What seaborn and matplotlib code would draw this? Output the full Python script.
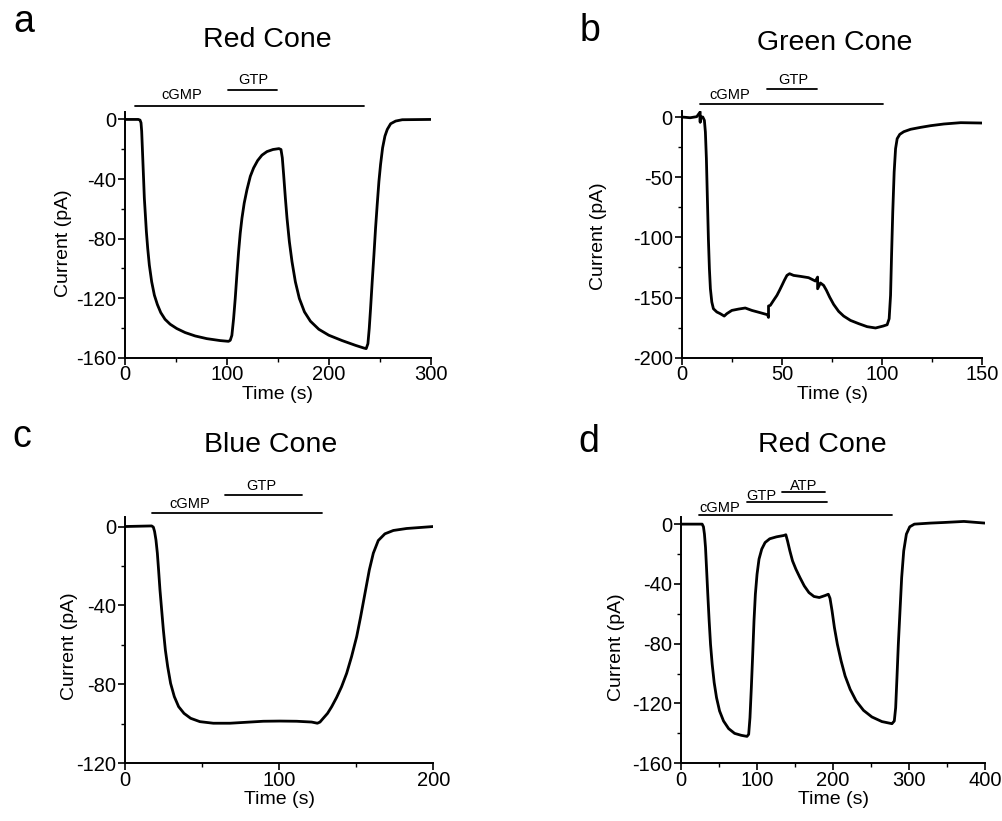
import numpy as np
import pandas as pd
import matplotlib
matplotlib.use('agg')
import matplotlib.pyplot as plt
from matplotlib.ticker import MultipleLocator
import seaborn as sns

# ---- traces (time in s, current in pA) ----
a_time = [0, 13, 14.75, 15.74, 16.39, 17.05, 17.7, 18.36, 19.0, 20.0, 21.0, 22.3, 23.9, 26.2,
          28.85, 31.8, 35.1, 39.3, 44.3, 50.8, 59.0, 68.9, 80.3, 93.4, 101.6, 103.3, 104.9,
          106.6, 108.2, 109.8, 111.5, 113.1, 114.8, 117, 119.7, 123, 126.2, 130.2, 134.4, 139.3,
          145.2, 151.1, 153.1, 154.4, 155.7, 157.4, 159, 161.3, 163.9, 167.2, 171.1, 176.1, 182,
          190.2, 200, 213.1, 226.2, 234.4, 236.7, 238.4, 239.7, 241, 242.6, 244.3, 245.9, 247.5,
          249.2, 250.8, 252.8, 255.1, 257.4, 260.7, 265.6, 272.1, 300]
a_curr = [0, 0, -0.45, -2.25, -7.9, -19.1, -30.3, -41.6, -52.8, -64.0, -75.3, -86.5, -97.8,
          -109.0, -118.0, -124.3, -129.7, -134.2, -137.5, -140.4, -143.1, -145.4, -147.2,
          -148.5, -149.0, -148.3, -145, -133.7, -120.2, -104.5, -88.8, -76.4, -66.3, -56.2,
          -47.2, -38.2, -32.6, -27.6, -24, -21.6, -20.2, -19.6, -20.2, -25.8, -37.1, -52.8,
          -66.3, -82, -95.5, -109, -120.2, -129.2, -135.5, -140.9, -144.9, -148.5, -151.7,
          -153.5, -153.9, -150.6, -140.4, -127, -109, -91, -73, -57.3, -41.6, -30.3, -19.1,
          -11.2, -6.7, -2.9, -1.1, -0.2, 0]

b_time = [0, 4.2, 7.5, 9.2, 9.2, 9.2, 10.5, 11.3, 11.8, 12.3, 12.8, 13.3, 13.8, 14.3, 15, 15.8,
          17.5, 19.2, 21.2, 22.5, 25, 28.3, 31.7, 35, 39.2, 42.8, 43.3, 43.3, 44.2, 45.8, 47.5,
          48.8, 50, 51.2, 52.5, 53.8, 55.8, 59.2, 63.3, 66.7, 67.8, 67.8, 69.2, 70.8, 72.2, 73.8,
          75.8, 78.3, 80.8, 84.2, 88.3, 92.5, 96.7, 100.5, 102.5, 103.5, 104.2, 104.7, 105.3,
          106, 106.7, 107.5, 108.8, 110.8, 114.2, 119.2, 124.2, 130.8, 139.2, 150]
b_curr = [0, -0.6, 0.3, 4.2, -4.2, 0, 0, -2.8, -12.5, -34.6, -67.9, -101.1, -126, -142.7,
          -153.7, -159.3, -162, -163.4, -165.4, -163.4, -160.7, -159.6, -158.7, -160.7, -162.6,
          -164.3, -166.5, -157, -156.5, -152.4, -148.2, -144, -139.9, -135.7, -131.6, -130.2,
          -131.6, -132.4, -133.5, -136.3, -133, -142.7, -137.9, -139.9, -144, -149.6, -155.7,
          -161.5, -165.4, -169, -171.7, -174.2, -175.3, -173.7, -172.6, -167.6, -148.2, -115,
          -78.9, -45.7, -26.3, -18, -14.4, -12.2, -10.2, -8.6, -7.2, -5.8, -4.7, -5]

c_time = [0, 17.3, 18.4, 19.2, 20.1, 21, 21.8, 22.7, 23.8, 24.9, 26.2, 27.7, 29.6, 32, 34.8,
          38.3, 42.6, 48.6, 57.3, 68.1, 78.9, 89.7, 100.5, 111.4, 121.1, 124.8, 126.5, 128.6,
          131.4, 134.1, 137.3, 140.5, 143.8, 147, 150.3, 152.9, 155.7, 158.5, 161.1, 164.3,
          168.6, 174.1, 182.7, 200]
c_curr = [0, 0.3, -0.3, -2.5, -6.8, -13.5, -22, -32.1, -42.3, -52.4, -62.6, -71, -79.5, -86.2,
          -91.3, -94.7, -97.2, -98.9, -99.7, -99.7, -99.2, -98.7, -98.6, -98.7, -99.1, -99.7,
          -99.1, -97.2, -94.7, -91.3, -86.6, -81.2, -74.4, -65.9, -55.8, -45.6, -33.8, -22,
          -13.5, -7.1, -3.7, -2, -1, 0]

d_time = [0, 27.8, 29.5, 30.8, 32.2, 33.5, 35.2, 37, 38.8, 41, 43.6, 46.7, 50.7, 55.9, 62.6,
          70.5, 79.3, 86.8, 89, 90.7, 92.5, 94.3, 96, 97.8, 100, 102.6, 106.2, 110.6, 116.7,
          125.6, 135.2, 137.9, 140.1, 143.2, 146.7, 151.1, 156.4, 162.1, 168.3, 174.9, 181.9,
          189.4, 193.8, 196, 198.7, 201.8, 205.7, 210.6, 215.9, 222.5, 230.4, 240.1, 251.1,
          264.3, 277.5, 280.6, 282.4, 284.1, 285.9, 288.1, 290.3, 293, 296.5, 300.9, 307,
          328.2, 345.8, 372.2, 399.6]
d_curr = [0, 0, -1.8, -6.7, -15.6, -29, -46.9, -64.7, -80.4, -93.8, -106, -116.1, -125, -131.7,
          -136.8, -140, -141.3, -142, -140.6, -129.5, -109.4, -87.1, -64.7, -46.9, -33.5, -23.4,
          -16.7, -12.3, -9.8, -8.5, -7.6, -7.1, -11.2, -17.9, -24.6, -30.1, -35.7, -41.3, -45.8,
          -48.4, -49.1, -47.8, -46.9, -49.6, -58, -69.2, -80.4, -91.5, -101.6, -110.5, -118.3,
          -124.6, -129, -132.1, -133.5, -131.7, -122.8, -102.7, -80.4, -58, -35.7, -17.9, -6.7,
          -1.8, 0, 0.7, 1.1, 1.8, 0.7]

# ---- solution application bars: (label, start, end, bar level, text x, text baseline) ----
a_bars = [('cGMP', 10, 235, 9, 55.6, 13.5), ('GTP', 101, 149, 19.7, 126, 23.6)]
b_bars = [('cGMP', 9, 100.3, 10.5, 24.1, 15.3), ('GTP', 42.4, 67.4, 23, 55.7, 27.7)]
c_bars = [('cGMP', 17.3, 128, 6.7, 42, 9.5), ('GTP', 64.9, 115, 15.8, 88.3, 18.7)]
d_bars = [('cGMP', 23.7, 277, 6.2, 50.7, 8.4), ('GTP', 86.4, 191.7, 14.9, 106.2, 16.2),
          ('ATP', 132.4, 189.5, 21.7, 161.8, 22.7)]

sns.set_style('ticks')
plt.rcParams['font.family'] = ['Liberation Sans', 'DejaVu Sans']
plt.rcParams['axes.unicode_minus'] = False
plt.rcParams['text.color'] = 'black'
plt.rcParams['axes.labelcolor'] = 'black'
plt.rcParams['xtick.color'] = 'black'
plt.rcParams['ytick.color'] = 'black'

fig = plt.figure(figsize=(10.03, 8.21), dpi=100)

panels = [
    # letter, title, rect, time, current, bars, xmax, ymin, xstep, ystep, ylabel x, ylabel y, label pos, title pos
    ('a', 'Red Cone', [0.1246, 0.5643, 0.3048, 0.2993], a_time, a_curr, a_bars,
     300, -160, 100, 40, -0.173, 0.466, (13, 32), (267.8, 46.7)),
    ('b', 'Green Cone', [0.6797, 0.5643, 0.2997, 0.3005], b_time, b_curr, b_bars,
     150, -200, 50, 50, -0.249, 0.494, (580, 40.7), (835, 50)),
    ('c', 'Blue Cone', [0.1246, 0.0703, 0.3074, 0.3004], c_time, c_curr, c_bars,
     200, -120, 100, 40, -0.151, 0.473, (12.7, 446.7), (270.8, 452.3)),
    ('d', 'Red Cone', [0.6790, 0.0703, 0.3031, 0.3004], d_time, d_curr, d_bars,
     400, -160, 100, 40, -0.184, 0.469, (578, 451.7), (822.5, 452.3)),
]

W, H = 1003.0, 821.0
for (letter, title, rect, t, cur, bars, xmax, ymin, xstep, ystep,
     ylx, yly, lpos, tpos) in panels:
    ax = fig.add_axes(rect)
    df = pd.DataFrame({'Time': t, 'Current': cur})
    sns.lineplot(data=df, x='Time', y='Current', ax=ax, color='black',
                 linewidth=2.0, estimator=None, sort=False)
    ax.set_xlim(0, xmax)
    ax.set_ylim(ymin, 5)
    ax.xaxis.set_major_locator(MultipleLocator(xstep))
    ax.xaxis.set_minor_locator(MultipleLocator(xstep / 2))
    ax.yaxis.set_major_locator(MultipleLocator(ystep))
    ax.yaxis.set_minor_locator(MultipleLocator(ystep / 2))
    ax.tick_params(which='major', direction='out', length=5, width=1.2, labelsize=14.5)
    ax.tick_params(which='minor', direction='out', length=3, width=1.0)
    ax.tick_params(axis='x', which='major', pad=0.5)
    ax.tick_params(axis='y', which='major', pad=1.5)
    for s in ['left', 'bottom']:
        ax.spines[s].set_linewidth(1.4)
        ax.spines[s].set_color('black')
    sns.despine(ax=ax)
    ax.set_xlabel('Time (s)', fontsize=14, labelpad=1)
    ax.set_ylabel('Current (pA)', fontsize=14)
    ax.yaxis.set_label_coords(ylx, yly)

    for name, x0, x1, lvl, tx, ty in bars:
        ax.plot([x0, x1], [lvl, lvl], color='black', linewidth=1.3, clip_on=False)
        ax.text(tx, ty, name, ha='center', va='baseline', fontsize=10.5, clip_on=False)

    fig.text(lpos[0] / W, 1 - lpos[1] / H, letter, fontsize=27, ha='left', va='baseline')
    fig.text(tpos[0] / W, 1 - tpos[1] / H, title, fontsize=20.5, ha='center', va='baseline')

fig.savefig('out.png', dpi=100)
